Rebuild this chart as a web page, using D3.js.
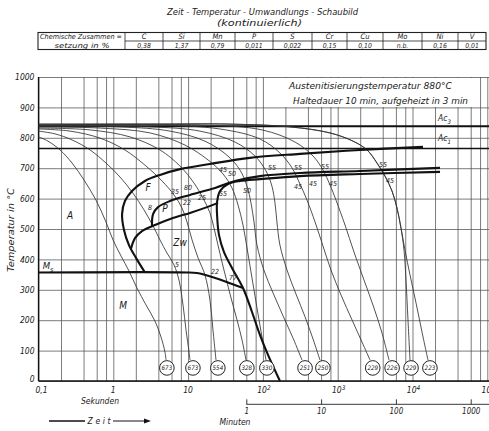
<!DOCTYPE html>
<html>
<head>
<meta charset="utf-8">
<script src="https://cdn.jsdelivr.net/npm/d3@7/dist/d3.min.js"></script>
<style>
html,body{margin:0;padding:0;background:#fff;}
svg{display:block;}
text{font-family:"DejaVu Sans Condensed","DejaVu Sans",sans-serif;font-style:italic;fill:#1a1a1a;}
</style>
</head>
<body>
<svg id="chart" width="489" height="431"></svg>
<script>
// ---------------- DATA ----------------
const title = "Zeit - Temperatur - Umwandlungs - Schaubild";
const subtitle = "(kontinuierlich)";
const elements = ["C","Si","Mn","P","S","Cr","Cu","Mo","Ni","V"];
const composition = ["0,38","1,37","0,79","0,011","0,022","0,15","0,10","n.b.","0,16","0,01"];
const infoLines = ["Austenitisierungstemperatur  880°C", "Haltedauer 10 min, aufgeheizt in 3 min"];

const tempTicks = [0,100,200,300,400,500,600,700,800,900,1000];
const secondTicks = [0.1,1,10,100,1000,10000,100000];
const secondTickLabels = [["0,1",""],["1",""],["10",""],["10","2"],["10","3"],["10","4"],["10","5"]];
const minuteTicks = [1,10,100,1000];
const gridMantissas = [1,2,4,6,8];

const Ac3 = 838, Ac1 = 765;

// cooling curves [time s, temperature °C]
const cool1  = [[0.1,803],[0.134,789],[0.194,760],[0.281,717],[0.406,661],[0.587,595],[0.798,523],[0.991,464],[1.27,411],[1.62,362],[2.07,306],[2.74,250],[3.61,197],[4.34,145],[4.91,95],[5.07,69]];
const cool2  = [[0.1,822],[0.166,813],[0.281,793],[0.489,760],[0.798,717],[1.23,671],[1.83,618],[2.57,563],[3.40,510],[4.21,464],[5.22,421],[6.48,382],[7.55,332],[8.55,250],[9.38,168],[10.3,95],[10.6,69]];
const cool3  = [[0.1,829],[0.264,822],[0.664,799],[1.43,760],[2.74,707],[4.48,658],[6.48,612],[8.29,569],[9.67,523],[11.3,464],[13.6,405],[16.8,349],[19.6,266],[21.5,168],[23.6,69]];
const cool4  = [[0.1,832],[0.489,826],[1.67,803],[4.21,760],[7.79,707],[12.0,651],[15.8,602],[19.6,553],[22.2,503],[25.1,447],[28.4,391],[32.1,339],[37.5,273],[45.1,201],[52.6,135],[59.4,69]];
const cool5  = [[0.1,836],[0.664,832],[3.10,816],[9.09,776],[18.5,727],[29.3,681],[38.6,635],[46.5,579],[54.2,513],[61.3,438],[69.3,359],[78.4,280],[88.7,201],[100,128],[110,69]];
const cool6  = [[0.1,839],[1.23,836],[5.73,822],[16.8,789],[34.1,740],[49.4,694],[61.3,641],[69.3,586],[76.0,523],[83.4,447],[103,365],[137,289],[186,214],[253,141],[333,69]];
const cool7  = [[0.1,839],[3.10,836],[14.4,822],[42.4,786],[78.4,740],[110,691],[132,641],[145,586],[154,523],[169,447],[210,365],[277,286],[366,211],[468,138],[580,69]];
const cool8  = [[0.1,842],[3.10,842],[26.7,829],[91.5,796],[169,750],[245,701],[313,648],[389,595],[498,523],[636,444],[813,365],[1107,283],[1553,201],[2115,128],[2704,69]];
const cool9  = [[0.1,842],[14.4,842],[97.3,826],[269,786],[468,740],[636,694],[789,645],[949,595],[1253,513],[1652,424],[2249,332],[3057,240],[3909,158],[4853,69]];
const cool10 = [[0.1,845],[3.10,845],[36.3,845],[230,836],[789,816],[1603,789],[2466,760],[3352,717],[4290,674],[5321,625],[6205,569],[7020,503],[7697,431],[8187,332],[8703,201],[9262,69]];
const cool11 = [[0.1,845],[3.10,845],[36.3,845],[230,836],[789,816],[1603,789],[2466,760],[3352,717],[4290,674],[5321,625],[6205,569],[7020,503],[7937,431],[9262,349],[11140,257],[13400,161],[16110,69]];
const coolingCurves = [cool1,cool2,cool3,cool4,cool5,cool6,cool7,cool8,cool9,cool10,cool11];

// hardness (HV) at the end of each curve
const hardnessValues = [673,673,554,328,330,251,250,229,226,229,223];
const hardnessTimes  = [5.2,11.6,25,61,113,366,634,2940,5340,9560,17100];
const hardnessTemp = 43;

// transformation lines
const ferriteStart = [[2.65,357],[2.01,405],[1.62,447],[1.39,497],[1.31,549],[1.43,592],[1.78,625],[2.65,658],[4.21,678],[7.79,697],[19.6,714],[67.2,734],[313,747],[1990,760],[13810,770]];
const bainiteStart = [[1.72,434],[1.95,470],[2.42,493],[3.61,513],[6.28,536],[10.6,553],[17.9,572],[25.1,586]];
const pearliteStart = [[3.29,510],[3.40,549],[3.96,572],[5.73,592],[10.6,612],[22.9,635],[42.4,658],[91.5,674],[313,684],[1990,691],[23330,701]];
const transformationEnd = [[23330,688],[1990,681],[313,674],[91.5,664],[49.4,658],[34.1,648],[26.7,625],[24.4,589],[24.4,546],[25.9,480],[30.2,424],[38.6,372],[54.2,306],[71.5,227],[91.5,151],[117,86],[169,0]];
const msLine = [[0.1,357],[10,357],[13,355],[18,347],[26,335],[38,320],[54.2,306]];

// region & percentage labels [text, time, temp]
const phaseLabels = [["A",0.264,546],["F",2.91,638],["P",4.91,566],["Zw",7.79,454],["M",1.35,250]];
const percentLabels = [["8",3.10,572],["35",6.68,622],["80",10,635],["22",9.67,586],["25",15.3,602],
  ["45",29.3,694],["50",38.6,684],["55",29.3,618],["50",61.3,628],["55",132,701],["55",294,701],
  ["45",294,638],["45",468,651],["55",676,704],["45",865,651],["55",4036,711],["45",5005,661],
  ["5",7.11,382],["22",22.9,360],["77",39.8,339]];

// ---------------- DRAW ----------------
const svg = d3.select("#chart");
const x = d3.scaleLog().domain([0.1, 1e5]).range([38.5, 487.3]);
const xm = d3.scaleLog().domain([0.1/60, 1e5/60]).range([38.5, 487.3]);
const y = d3.scaleLinear().domain([0, 1000]).range([381, 77]);
const xLeft = 38.5, xRight = 489;

// title
svg.append("text").attr("x",262.5).attr("y",15).attr("text-anchor","middle")
  .attr("font-size",9).attr("textLength",191).attr("lengthAdjust","spacingAndGlyphs").text(title);
svg.append("text").attr("x",259.5).attr("y",25.5).attr("text-anchor","middle")
  .attr("font-size",8.5).attr("textLength",85).attr("lengthAdjust","spacingAndGlyphs").text(subtitle);

// composition table
const colB = [38,125,163,200,235,273,312,347,383,422,458,486];
const tT = 32.5, tM = 41, tB = 49.5;
const tg = svg.append("g");
tg.append("rect").attr("x",colB[0]).attr("y",tT).attr("width",colB[colB.length-1]-colB[0]).attr("height",tB-tT)
  .attr("fill","none").attr("stroke","#222").attr("stroke-width",1.1);
tg.append("line").attr("x1",colB[1]).attr("x2",colB[colB.length-1]).attr("y1",tM).attr("y2",tM).attr("stroke","#222").attr("stroke-width",0.8);
colB.slice(1,-1).forEach(b=>tg.append("line").attr("x1",b).attr("x2",b).attr("y1",tT).attr("y2",tB).attr("stroke","#222").attr("stroke-width",0.8));
tg.append("text").attr("x",81).attr("y",39.3).attr("text-anchor","middle").attr("font-size",7)
  .attr("textLength",82).attr("lengthAdjust","spacingAndGlyphs").text("Chemische Zusammen =");
tg.append("text").attr("x",82).attr("y",47.6).attr("text-anchor","middle").attr("font-size",7)
  .attr("textLength",55).attr("lengthAdjust","spacingAndGlyphs").text("setzung in %");
elements.forEach((e,i)=>{
  const cx=(colB[i+1]+colB[i+2])/2;
  tg.append("text").attr("x",cx).attr("y",39.3).attr("text-anchor","middle").attr("font-size",7.5).text(e);
  tg.append("text").attr("x",cx).attr("y",47.6).attr("text-anchor","middle").attr("font-size",6.8).text(composition[i]);
});

// grid
const gridTimes=[];
for(let e=-1;e<=4;e++) gridMantissas.forEach(m=>gridTimes.push(+(m*Math.pow(10,e)).toPrecision(3)));
gridTimes.push(1e5);
const gx = svg.append("g").attr("transform","translate(0,381)")
  .call(d3.axisBottom(x).tickValues(gridTimes).tickSize(-(381-77)).tickFormat(""));
gx.select(".domain").remove();
gx.selectAll("line").attr("stroke","#505050").attr("stroke-width",0.75);
const gy = svg.append("g").attr("transform",`translate(${xLeft},0)`)
  .call(d3.axisLeft(y).tickValues(tempTicks).tickSize(-(xRight-xLeft)).tickFormat(""));
gy.select(".domain").remove();
gy.selectAll("line").attr("stroke","#505050").attr("stroke-width",0.75);

// info box
svg.append("rect").attr("x",284).attr("y",78).attr("width",190).attr("height",29).attr("fill","#fff");
svg.append("text").attr("x",452).attr("y",88.5).attr("text-anchor","end").attr("font-size",9)
  .attr("textLength",163).attr("lengthAdjust","spacingAndGlyphs").text(infoLines[0]);
svg.append("text").attr("x",468).attr("y",103.5).attr("text-anchor","end").attr("font-size",9)
  .attr("textLength",175).attr("lengthAdjust","spacingAndGlyphs").text(infoLines[1]);

// axes frame
svg.append("line").attr("x1",xLeft).attr("x2",xLeft).attr("y1",y(1000)).attr("y2",y(0)).attr("stroke","#111").attr("stroke-width",1.3);
svg.append("line").attr("x1",xLeft).attr("x2",xRight).attr("y1",y(0)).attr("y2",y(0)).attr("stroke","#111").attr("stroke-width",1.6);

// y tick labels
const yl = svg.append("g").attr("transform",`translate(${xLeft},0)`)
  .call(d3.axisLeft(y).tickValues(tempTicks).tickSize(0).tickPadding(4).tickFormat(d3.format("d")));
yl.select(".domain").remove();
yl.selectAll("text").attr("font-size",8.5).attr("font-family",null).attr("fill","#1a1a1a")
  .attr("dy",d=>d===0?"0.1em":"0.32em");
svg.append("text").attr("transform","translate(14,230) rotate(-90)").attr("text-anchor","middle")
  .attr("font-size",9).attr("textLength",84).attr("lengthAdjust","spacingAndGlyphs").text("Temperatur in °C");

// x tick labels (seconds)
secondTicks.forEach((t,i)=>{
  const lab = secondTickLabels[i];
  const tx = svg.append("text").attr("x",x(t)+(lab[1]?1:(i===0?3:0))).attr("y",393).attr("text-anchor","middle").attr("font-size",8.5);
  tx.append("tspan").text(lab[0]);
  if(lab[1]) tx.append("tspan").attr("dy",-3.5).attr("font-size",6.5).text(lab[1]);
});
svg.append("text").attr("x",100).attr("y",404).attr("text-anchor","middle").attr("font-size",8.5).text("Sekunden");

// minutes axis
svg.append("line").attr("x1",xm(1)).attr("x2",xRight).attr("y1",404.3).attr("y2",404.3).attr("stroke","#222").attr("stroke-width",0.9);
const ma = svg.append("g").attr("transform","translate(0,404.3)")
  .call(d3.axisBottom(xm).tickValues(minuteTicks).tickSize(-5).tickPadding(2.5).tickFormat(d3.format("d")));
ma.select(".domain").remove();
ma.selectAll("line").attr("stroke","#222").attr("stroke-width",0.9);
ma.selectAll("text").attr("font-size",8).attr("font-family",null).attr("fill","#1a1a1a").attr("dy","0.85em");
svg.append("text").attr("x",235).attr("y",424.5).attr("text-anchor","middle").attr("font-size",8.5).text("Minuten");

// Zeit arrow
svg.append("line").attr("x1",49).attr("x2",85).attr("y1",421).attr("y2",421).attr("stroke","#111").attr("stroke-width",1.3);
svg.append("line").attr("x1",113).attr("x2",146).attr("y1",421).attr("y2",421).attr("stroke","#111").attr("stroke-width",1);
svg.append("path").attr("d","M144,418.5 L151,421 L144,423.5 Z").attr("fill","#111");
svg.append("text").attr("x",99).attr("y",424).attr("text-anchor","middle").attr("font-size",8.5)
  .attr("textLength",23).attr("lengthAdjust","spacing").text("Zeit");

// Ac lines
[[Ac3,2.0],[Ac1,1.6]].forEach(([t,w])=>{
  svg.append("line").attr("x1",xLeft).attr("x2",xRight).attr("y1",y(t)).attr("y2",y(t)).attr("stroke","#111").attr("stroke-width",w);
});
const acT = [[Ac3,"3",5],[Ac1,"1",7]];
acT.forEach(([t,s,off])=>{
  const tx = svg.append("text").attr("x",438).attr("y",y(t)-off).attr("font-size",8.5);
  tx.append("tspan").text("Ac");
  tx.append("tspan").attr("dy",2.5).attr("font-size",6).text(s);
});

// cooling curves
const line = d3.line().x(d=>x(d[0])).y(d=>y(d[1])).curve(d3.curveCatmullRom.alpha(0.5));
svg.append("g").selectAll("path").data(coolingCurves).join("path")
  .attr("d",line).attr("fill","none").attr("stroke","#333").attr("stroke-width",0.85);

// thick transformation lines
[ferriteStart,bainiteStart,pearliteStart,transformationEnd,msLine].forEach(c=>{
  svg.append("path").attr("d",line(c)).attr("fill","none").attr("stroke","#111").attr("stroke-width",2.1).attr("stroke-linejoin","round");
});

// hardness circles
const hc = svg.append("g").selectAll("g").data(hardnessValues).join("g")
  .attr("transform",(d,i)=>`translate(${x(hardnessTimes[i])},${y(hardnessTemp)})`);
hc.append("circle").attr("r",7.3).attr("fill","#fff").attr("stroke","#222").attr("stroke-width",1);
hc.append("text").attr("text-anchor","middle").attr("dy","0.35em").attr("font-size",6.2).text(d=>d);

// region labels
svg.append("g").selectAll("text").data(phaseLabels).join("text")
  .attr("x",d=>x(d[1])).attr("y",d=>y(d[2])).attr("dy","0.35em").attr("text-anchor","middle")
  .attr("font-size",10).text(d=>d[0]);
const msl = svg.append("text").attr("x",x(0.134)).attr("y",y(378)).attr("dy","0.35em").attr("text-anchor","middle").attr("font-size",9.5);
msl.append("tspan").text("M");
msl.append("tspan").attr("dy",2.5).attr("font-size",7).text("s");

// percentage labels
svg.append("g").selectAll("text").data(percentLabels).join("text")
  .attr("x",d=>x(d[1])).attr("y",d=>y(d[2])).attr("dy","0.35em").attr("text-anchor","middle")
  .attr("font-size",7).text(d=>d[0]);
</script>
</body>
</html>
